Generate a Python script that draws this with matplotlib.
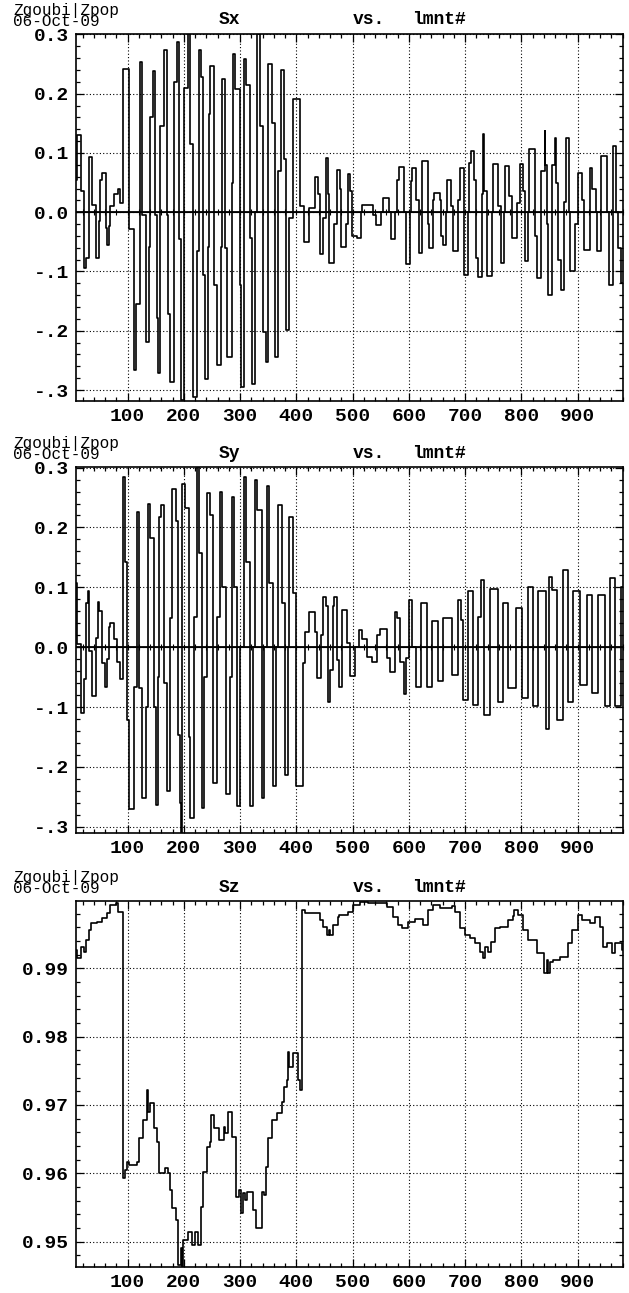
import numpy as np
import matplotlib.pyplot as plt
from matplotlib.ticker import MultipleLocator, NullFormatter

plt.rcParams['font.family'] = ['Liberation Mono', 'DejaVu Sans Mono']

# --- Sx vs lmnt#: (element where the step starts, value) ---
sx_steps = [
    (8, 0.055), (9.3, 0.13), (17, 0.035), (23, -0.094), (25.3, -0.077), (31.2, 0.093), (35.9, 0.013),
    (43, -0.077), (49, -0.015), (50.7, 0.055), (54.9, 0.067), (60.8, -0.027), (63.8, -0.055),
    (67.3, -0.024), (68.5, 0.010), (75.6, 0.030), (83.3, 0.040), (86.3, 0.015),
    (92, 0.242), (103, -0.029), (111, -0.267), (115, -0.155), (121, 0.253), (125, -0.004),
    (132, -0.219), (137, -0.058), (140, 0.16), (145, 0.239), (149, -0.004), (152, -0.178),
    (153.5, -0.272), (157, 0.146), (164, 0.273), (169, -0.004), (171, -0.171), (175, -0.286),
    (183, 0.219), (187, 0.287), (192, -0.046), (195, -0.317), (200, 0.21), (207, 0.304), (211, 0.115),
    (216, -0.312), (223, -0.066), (226, 0.273), (230, 0.228), (234, -0.106), (236.5, -0.281),
    (243, -0.058), (245, 0.166), (247, 0.247), (253, -0.123), (259, -0.258), (266, -0.058),
    (268, 0.225), (273, -0.06), (277, -0.244), (285, 0.05), (288, 0.267), (291, 0.208), (299, -0.123),
    (301, -0.295), (306.5, 0.0), (307, 0.258), (310, 0.214), (317, -0.044), (321, -0.289), (327, 0.0),
    (329, 0.30), (335, 0.146), (340, -0.202), (345, -0.253), (350, 0.25), (356, 0.151), (362, -0.244),
    (366.5, 0.069), (373, 0.24), (378.5, 0.089), (382, -0.199),
    (386.5, -0.01), (394, 0.191), (406.5, 0.01), (414, -0.05), (422, 0.007), (433, 0.059),
    (438.5, 0.03), (441, -0.07), (447, -0.01), (452, 0.092), (456, 0.03), (458, -0.085), (466, -0.02),
    (472, 0.071), (477, 0.04), (479, -0.058), (488, -0.02), (491, 0.065), (496, 0.035), (499, -0.04),
    (508, -0.044), (514, 0.0), (516, 0.012), (536, -0.005), (541, -0.021), (551, 0.0), (553, 0.024),
    (564, 0.0), (568, -0.045), (575.5, 0.0), (578, 0.055), (583, 0.076), (591, 0.0), (594, -0.087),
    (601, 0.0), (604, 0.053), (606, 0.075), (612, 0.02), (617, -0.068), (622.5, 0.0), (624, 0.086),
    (633, -0.02), (635, -0.038), (636, -0.06), (642, 0.02), (645, 0.033), (655, 0.02), (657, -0.04),
    (661, -0.055), (666, 0.0), (668, 0.055), (675, 0.01), (679, -0.066), (688, 0.02), (690, 0.075),
    (698, -0.106), (705, 0.0), (707, 0.083), (711, 0.103), (715, 0.055), (720, -0.077), (723, -0.109),
    (730, 0.03), (731, 0.132), (734, 0.036), (738, -0.108), (747, 0.0), (750, 0.082), (759, 0.01),
    (764, -0.086), (769, 0.0), (771, 0.078), (777, 0.027), (783, -0.044), (792, 0.016), (797, 0.082),
    (802, 0.036), (807, -0.083), (812, 0.0), (814, 0.106), (824, -0.04), (827, -0.111), (834, 0.07),
    (841, 0.137), (842, 0.08), (845, -0.02), (848, -0.14), (855, 0.08), (859, 0.095), (860, 0.126),
    (862, 0.05), (865, -0.08), (870, -0.131), (876, 0.018), (879, 0.126), (884, 0.0), (886, -0.1),
    (896, -0.02), (900, 0.066), (908, 0.02), (912, -0.063), (921, 0.0), (922, 0.075), (926, 0.04),
    (932, 0.0), (935, -0.066), (941, 0.095), (952, 0.0), (956, -0.123), (962, 0.112), (968, 0.0),
    (972, -0.06), (977, -0.12), (980, -0.12),
]

# --- Sy vs lmnt# ---
sy_steps = [
    (8.1, 0.107), (10.5, 0.005), (17, -0.11), (22, -0.054), (25.3, 0.073), (30, 0.093), (31.8, -0.007),
    (36, -0.082), (43, 0.015), (46.6, 0.076), (49.6, 0.06), (54.9, -0.027), (59.7, -0.066),
    (63.5, -0.02), (66.8, 0.034), (68.6, 0.041), (76.3, 0.013), (81.6, -0.024), (86.3, -0.054),
    (92.3, 0.284), (94.6, 0.143), (98.5, -0.121), (102.9, -0.271), (111, -0.066), (116, 0.226),
    (120.7, -0.068), (124.9, -0.252), (133, -0.1), (136.7, 0.24), (139.7, 0.182), (146.8, -0.1),
    (150.3, -0.263), (154, -0.05), (156.3, 0.218), (159.2, 0.237), (164.6, -0.06), (170.5, -0.241),
    (176, 0.048), (178.2, 0.265), (186, 0.21), (190, -0.146), (193, -0.26), (194.8, -0.313),
    (197, 0.273), (201.9, 0.232), (209, -0.15), (210.8, -0.285), (217, 0.05), (222.6, 0.304),
    (226.8, 0.157), (231.5, -0.268), (236, -0.05), (240.4, 0.257), (246, 0.22), (252.3, -0.227),
    (259, 0.05), (264.1, 0.26), (268, 0.1), (275, -0.246), (281, -0.05), (285, 0.251), (289, 0.1),
    (295, -0.266), (300, 0.0), (306, 0.284), (310, 0.143), (317, -0.266), (322, 0.0), (326, 0.279),
    (330, 0.229), (338, -0.252), (343, 0.0), (347, 0.27), (351, 0.107), (358, -0.232), (363, 0.0),
    (368, 0.237), (375, 0.073), (380, -0.213), (385, 0.0), (387, 0.218), (394, 0.091), (400, -0.232),
    (412.2, -0.027), (415.2, 0.026), (422.9, 0.059), (433, 0.026), (436, -0.052), (443, 0.021),
    (446.6, 0.084), (452.5, 0.068), (456.7, -0.091), (459.6, -0.038), (464.4, 0.068), (467.3, 0.084),
    (472.7, -0.021), (476.2, -0.066), (480.4, 0.062), (489.3, 0.007), (495.2, -0.049), (504.1, 0.001),
    (511.8, 0.029), (516, 0.013), (524.8, -0.016), (533.7, -0.024), (543.8, 0.021), (548.5, 0.03),
    (561.6, -0.018), (566.3, -0.041), (575.2, 0.059), (578.2, 0.048), (584.1, -0.024), (591.2, -0.079),
    (594.7, -0.018), (600.7, 0.079), (606, 0.001), (611.9, -0.066), (621.4, 0.073), (631.5, -0.066),
    (640.4, 0.043), (652.2, -0.057), (661.1, 0.048), (675.9, -0.046), (687.8, 0.079), (692.5, 0.046),
    (696.7, -0.088), (705.6, 0.093), (714.4, -0.096), (723.3, 0.051), (728.1, 0.112), (734, -0.113),
    (744.1, 0.098), (758.9, -0.091), (767.8, 0.073), (776.7, -0.068), (790.3, 0.065), (800.4, -0.085),
    (811, 0.101), (821.1, -0.099), (830, 0.093), (843.6, -0.137), (849.6, 0.118), (853.7, 0.096),
    (862.6, -0.121), (874.5, 0.129), (883.3, -0.092), (892.2, 0.093), (904.1, -0.063), (915.9, 0.087),
    (924.8, -0.077), (936.7, 0.087), (948.5, -0.099), (957.4, 0.115), (966.3, -0.099), (976.4, 0.101),
    (980, 0.101),
]

# --- Sz vs lmnt# ---
sz_steps = [
    (8.1, 0.99268), (9.3, 0.99146), (17, 0.99317), (23, 0.99244), (25.3, 0.99415), (31.2, 0.99561),
    (34.8, 0.99658), (44.9, 0.99673), (55, 0.99732), (62.7, 0.99805), (68.6, 0.99927), (78.6, 0.99951),
    (83.4, 0.99829), (92.3, 0.95928), (95.2, 0.9605), (98.2, 0.96171), (103, 0.96122), (117, 0.96171),
    (120.7, 0.96513), (126.7, 0.96781), (133.8, 0.9722), (136.7, 0.96903), (139.7, 0.97025),
    (146.8, 0.96659), (151.5, 0.96464), (156.3, 0.96), (166.4, 0.96074), (172.3, 0.96),
    (175.2, 0.95757), (178.8, 0.95489), (185.3, 0.95318), (190.1, 0.9466), (194.8, 0.94903),
    (196, 0.94635), (199, 0.95025), (207.8, 0.95147), (215, 0.94952), (219.7, 0.95147),
    (225, 0.94952), (230.4, 0.95513), (234.5, 0.96025), (240.4, 0.96391), (246.4, 0.96464),
    (248.1, 0.96854), (252.9, 0.96659), (262.4, 0.96488), (271.2, 0.96683), (273, 0.96586),
    (277.8, 0.96903), (284.9, 0.96537), (292, 0.9566), (297.9, 0.95757), (301.5, 0.95416),
    (305.6, 0.95708), (309, 0.9561), (311.5, 0.95732), (323.4, 0.95464), (328.1, 0.95196),
    (338.2, 0.95732), (343, 0.95684), (345.3, 0.96098), (350.1, 0.96513), (356, 0.96781),
    (364.9, 0.96879), (373.8, 0.97049), (378.5, 0.97269), (382.7, 0.97366), (385.6, 0.97781),
    (387.4, 0.97561), (394.5, 0.97756), (402.2, 0.97366), (406.4, 0.9722), (410.5, 0.99853),
    (415.3, 0.99814), (441.9, 0.99707), (447.8, 0.9961), (453.8, 0.99488), (457.9, 0.99561),
    (459.7, 0.99488), (465.6, 0.99634), (474.5, 0.99756), (475.6, 0.9978), (492.2, 0.99829),
    (501.1, 0.99927), (513, 0.99975), (527.8, 0.99961), (560.4, 0.99902), (572.2, 0.99756),
    (581.1, 0.99634), (587.5, 0.99585), (597.7, 0.99683), (610.7, 0.99717), (625.5, 0.99634),
    (634.4, 0.99853), (643.3, 0.99927), (655.2, 0.99878), (675.9, 0.99912), (681.8, 0.99829),
    (690.7, 0.99585), (699.6, 0.99488), (708.5, 0.99439), (717.4, 0.99366), (726.3, 0.99244),
    (732.2, 0.99146), (735.2, 0.99317), (741.1, 0.99244), (745.8, 0.9939), (752.9, 0.99585),
    (761.8, 0.9961), (776.7, 0.99707), (785.5, 0.99766), (787.3, 0.99853), (793.2, 0.9978),
    (803.3, 0.99561), (812.2, 0.99415), (827, 0.99219), (840.1, 0.98927), (844.8, 0.99122),
    (847.8, 0.98927), (850.7, 0.99098), (856.6, 0.99122), (868.5, 0.99171), (883.3, 0.99366),
    (889.2, 0.99561), (899.9, 0.9978), (907, 0.99707), (921.8, 0.99658), (930.7, 0.99756),
    (939.6, 0.9961), (945.5, 0.99317), (951.5, 0.99366), (960.4, 0.99219), (966.3, 0.99366),
    (978.1, 0.99268), (980, 0.99268),
]

spin_ticks = [-0.3, -0.2, -0.1, 0.0, 0.1, 0.2, 0.3]
spin_labels = ['-.3', '-.2', '-.1', '0.0', '0.1', '0.2', '0.3']
sz_ticks = [0.95, 0.96, 0.97, 0.98, 0.99]
sz_labels = ['0.95', '0.96', '0.97', '0.98', '0.99']
x_ticks = [100, 200, 300, 400, 500, 600, 700, 800, 900]

W, H = 629, 1293
fig = plt.figure(figsize=(W / 100, H / 100), dpi=100)

# name, data, top/bottom of the frame in pixels, y range, ticks, minor step, zero line
panels = [
    ('Sx', sx_steps, 34.0, 400.7, (-0.318, 0.3007), spin_ticks, spin_labels, 0.02, True),
    ('Sy', sy_steps, 467.0, 833.3, (-0.311, 0.301), spin_ticks, spin_labels, 0.02, True),
    ('Sz', sz_steps, 901.0, 1267.3, (0.94625, 0.99985), sz_ticks, sz_labels, 0.002, False),
]

left, right = 76.0, 622.7
for name, steps, top, bot, ylim, yt, yl, yminor, zero in panels:
    n, v = zip(*steps)
    ax = fig.add_axes([left / W, 1 - bot / H, (right - left) / W, (bot - top) / H])
    ax.plot(n, v, drawstyle='steps-post', color='black', lw=1.2, zorder=3)
    ax.set_xlim(8, 980)
    ax.set_ylim(*ylim)
    ax.set_xticks(x_ticks, [str(t) for t in x_ticks])
    ax.set_yticks(yt, yl)
    ax.xaxis.set_minor_locator(MultipleLocator(20))
    ax.yaxis.set_minor_locator(MultipleLocator(yminor))
    ax.tick_params(which='both', direction='in', top=True, right=True, width=0.9)
    ax.tick_params(which='major', length=6, pad=5, labelsize=14)
    ax.tick_params(which='minor', length=3)
    for lab in ax.get_xticklabels() + ax.get_yticklabels():
        lab.set_fontweight('bold')
    ax.grid(True, which='major', color='black', linestyle=(0, (1, 2)), lw=0.8)
    for s in ax.spines.values():
        s.set_linewidth(1.2)
    if zero:
        # solid zero line carrying its own small ticks
        ax.axhline(0, color='black', lw=1.3, zorder=2)
        sec = ax.secondary_xaxis((0 - ylim[0]) / (ylim[1] - ylim[0]))
        sec.xaxis.set_major_locator(MultipleLocator(100))
        sec.xaxis.set_minor_locator(MultipleLocator(20))
        sec.xaxis.set_major_formatter(NullFormatter())
        sec.xaxis.set_minor_formatter(NullFormatter())
        sec.tick_params(which='both', direction='inout', length=4, width=0.8)
        sec.spines['bottom'].set_visible(False)

    # header line above each frame
    fig.text(13 / W, 1 - (top - 18) / H, 'Zgoubi|Zpop\n06-Oct-09', fontsize=11.5, ha='left',
             va='center', linespacing=0.62)
    fig.text(229 / W, 1 - (top - 14) / H, name, fontsize=13, fontweight='bold', ha='center', va='center')
    fig.text(369 / W, 1 - (top - 14) / H, 'vs.', fontsize=13, fontweight='bold', ha='center', va='center')
    fig.text(439 / W, 1 - (top - 14) / H, 'lmnt#', fontsize=13, fontweight='bold', ha='center', va='center')

fig.savefig('out.png', dpi=100)
